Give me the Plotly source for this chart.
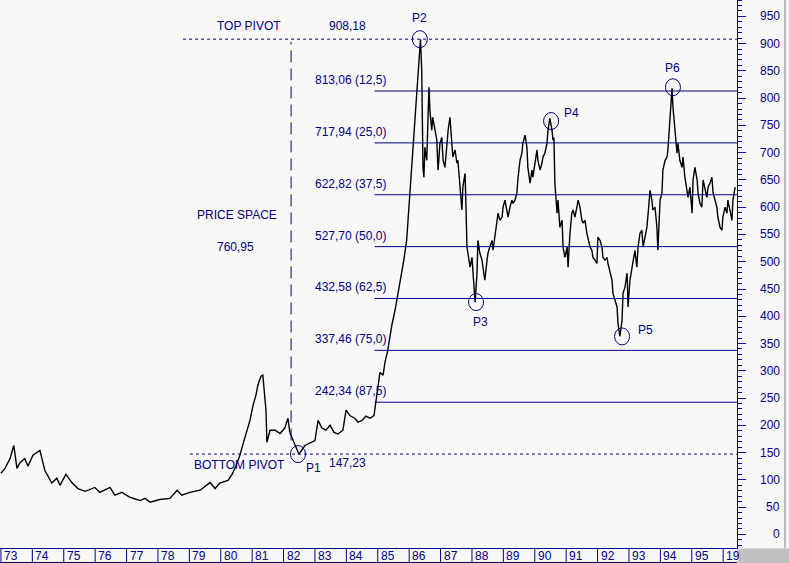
import plotly.graph_objects as go

# ---------------- data ----------------
years = [1973.00,1973.13,1973.29,1973.41,1973.51,1973.61,1973.76,1973.86,1974.02,1974.24,1974.40,1974.62,1974.78,1974.88,
 1975.07,1975.26,1975.45,1975.68,1975.99,1976.15,1976.47,1976.63,1976.85,1977.11,1977.43,1977.59,1977.75,1977.90,
 1978.06,1978.38,1978.61,1978.76,1979.02,1979.34,1979.66,1979.82,1979.97,1980.23,1980.36,1980.48,1980.61,1980.74,
 1980.83,1980.93,1981.03,1981.12,1981.18,1981.28,1981.34,1981.44,1981.47,1981.57,1981.73,1981.89,1982.04,1982.14,
 1982.20,1982.30,1982.43,1982.49,1982.68,1982.84,1983.00,1983.10,1983.22,1983.35,1983.48,1983.61,1983.73,1983.89,
 1983.99,1984.11,1984.27,1984.37,1984.50,1984.62,1984.75,1984.88,1984.94,1985.01,1985.07,1985.17,1985.23,1985.32,
 1985.39,1985.45,1985.55,1985.64,1985.74,1985.83,1985.92,1985.99,1986.05,1986.11,1986.18,1986.24,1986.31,1986.36,
 1986.40,1986.44,1986.47,1986.50,1986.56,1986.63,1986.66,1986.72,1986.75,1986.82,1986.88,1986.92,1986.98,1987.04,
 1987.08,1987.14,1987.20,1987.24,1987.30,1987.36,1987.39,1987.46,1987.52,1987.55,1987.62,1987.68,1987.71,1987.78,
 1987.81,1987.84,1987.87,1987.94,1988.00,1988.03,1988.10,1988.16,1988.19,1988.25,1988.32,1988.35,1988.41,1988.48,
 1988.51,1988.57,1988.64,1988.67,1988.73,1988.80,1988.83,1988.89,1988.96,1988.99,1989.05,1989.11,1989.15,1989.21,
 1989.27,1989.31,1989.37,1989.43,1989.46,1989.53,1989.59,1989.62,1989.69,1989.75,1989.78,1989.85,1989.91,1989.94,
 1990.01,1990.07,1990.10,1990.17,1990.23,1990.26,1990.32,1990.39,1990.42,1990.48,1990.55,1990.58,1990.61,1990.64,
 1990.71,1990.74,1990.80,1990.87,1990.90,1990.96,1991.03,1991.06,1991.12,1991.18,1991.22,1991.28,1991.34,1991.38,
 1991.44,1991.50,1991.54,1991.60,1991.66,1991.69,1991.76,1991.82,1991.85,1991.92,1991.98,1992.01,1992.08,1992.14,
 1992.17,1992.24,1992.30,1992.33,1992.39,1992.46,1992.49,1992.55,1992.62,1992.65,1992.71,1992.78,1992.81,1992.87,
 1992.94,1992.97,1993.03,1993.10,1993.13,1993.19,1993.25,1993.29,1993.35,1993.41,1993.45,1993.51,1993.57,1993.61,
 1993.67,1993.73,1993.76,1993.83,1993.89,1993.92,1993.99,1994.05,1994.08,1994.15,1994.21,1994.24,1994.31,1994.37,
 1994.40,1994.46,1994.53,1994.56,1994.62,1994.69,1994.72,1994.78,1994.85,1994.88,1994.94,1995.01,1995.04,1995.10,
 1995.17,1995.20,1995.26,1995.32,1995.36,1995.42,1995.48,1995.52,1995.58,1995.64,1995.68,1995.74,1995.80,1995.83,
 1995.90,1995.96,1995.99,1996.06,1996.12,1996.15,1996.22,1996.28,1996.31,1996.38]
prices = [112,121,139,163,121,132,139,125,145,154,117,94,103,90,
 110,95,84,79,86,77,86,72,77,68,62,66,59,62,
 64,66,81,72,77,81,95,84,94,99,110,125,145,172,
 191,209,237,255,273,290,292,228,169,191,191,185,195,213,
 187,172,154,147,163,167,172,209,195,191,200,187,184,191,
 228,218,213,206,209,217,213,218,242,273,297,292,316,338,
 365,384,411,439,470,503,539,595,650,705,760,806,851,908,
 851,673,655,710,686,820,778,741,765,741,723,668,717,728,
 686,673,717,741,765,717,692,705,681,686,626,595,637,662,
 600,527,516,490,508,479,426,479,539,516,503,490,466,503,
 516,527,539,521,552,576,589,576,582,600,613,589,582,600,
 613,607,613,626,650,686,699,717,732,710,673,644,668,655,
 686,705,686,668,681,692,699,717,741,763,741,723,728,644,
 589,613,563,576,527,508,527,490,552,589,595,582,600,613,
 600,576,571,576,552,545,527,521,508,503,497,545,539,527,
 508,503,508,497,484,466,442,429,417,387,363,393,442,453,
 479,417,466,490,503,521,490,527,552,558,527,545,563,589,
 631,613,595,600,563,521,613,626,668,686,692,705,760,818,
 784,747,699,717,686,673,692,655,631,618,637,589,650,673,
 650,626,607,600,650,631,618,637,644,655,626,613,600,582,
 563,558,582,600,589,613,595,576,613,637]

top_pivot = 908.18
bottom_pivot = 147.23
price_space = 760.95
level_values = [813.06, 717.94, 622.82, 527.70, 432.58, 337.46, 242.34]
level_labels = ["813,06 (12,5)", "717,94 (25,0)", "622,82 (37,5)", "527,70 (50,0)",
                "432,58 (62,5)", "337,46 (75,0)", "242,34 (87,5)"]

pivot_names = ["P1", "P2", "P3", "P4", "P5", "P6"]
pivot_years = [1982.46, 1986.34, 1988.13, 1990.52, 1992.78, 1994.40]
pivot_values = [147.23, 908.18, 426, 758, 363, 820]
pivot_label_dx = [15, 0, 4, 20, 23, 0]
pivot_label_dy = [-14, 21, -20, 8, 6, 19]

year_starts = list(range(1973, 1997))
year_labels = ["73","74","75","76","77","78","79","80","81","82","83","84",
               "85","86","87","88","89","90","91","92","93","94","95","19"]
y_tick_values = list(range(0, 951, 50))

# ---------------- style ----------------
NAVY = "#000080"
BG = "#f8f8f8"
FONT = "Liberation Sans, Arial, sans-serif"
X_MIN, X_MAX = 1972.97, 1996.44
Y_MIN, Y_MAX = -25, 980
PLOT_H = 548

fig = go.Figure()
fig.add_trace(go.Scatter(x=years, y=prices, mode="lines",
                         line=dict(color="black", width=1.4), hoverinfo="skip",
                         showlegend=False))

shapes = []
# Fibonacci levels
for v in level_values:
    shapes.append(dict(type="line", xref="x", yref="y", x0=1984.9, x1=X_MAX, y0=v, y1=v,
                       line=dict(color=NAVY, width=1)))
# pivots
shapes.append(dict(type="line", xref="x", yref="y", x0=1978.8, x1=X_MAX, y0=top_pivot, y1=top_pivot,
                   line=dict(color=NAVY, width=1, dash="3px,3px")))
shapes.append(dict(type="line", xref="x", yref="y", x0=1979.02, x1=X_MAX, y0=bottom_pivot, y1=bottom_pivot,
                   line=dict(color=NAVY, width=1, dash="3px,3px")))
# price space vertical
shapes.append(dict(type="line", xref="x", yref="y", x0=1982.24, x1=1982.24, y0=bottom_pivot + 25, y1=top_pivot - 5,
                   line=dict(color=NAVY, width=1, dash="12px,6px")))
# pivot circles
for px_, pv in zip(pivot_years, pivot_values):
    shapes.append(dict(type="circle", xref="x", yref="y", xsizemode="pixel", ysizemode="pixel",
                       xanchor=px_, yanchor=pv, x0=-7.5, x1=7.5, y0=-8.5, y1=8.5,
                       line=dict(color=NAVY, width=1)))
# year boxes
for ys in year_starts:
    shapes.append(dict(type="line", xref="x", yref="paper", x0=ys, x1=ys, y0=0, y1=-14.5 / PLOT_H,
                       line=dict(color=NAVY, width=1)))
shapes.append(dict(type="line", xref="paper", yref="paper", x0=0, x1=1, y0=-14.5 / PLOT_H, y1=-14.5 / PLOT_H,
                   line=dict(color=NAVY, width=1)))
# right panel border and grey corner
shapes.append(dict(type="line", xref="paper", yref="paper", x0=785 / 737, x1=785 / 737, y0=0, y1=1,
                   line=dict(color="#808080", width=1)))
shapes.append(dict(type="rect", xref="paper", yref="paper", x0=1.0007, x1=789 / 737, y0=-20 / PLOT_H, y1=-0.5 / PLOT_H,
                   fillcolor="#c0c0c0", line=dict(width=0), layer="above"))

ann = []
def txt(text, x, y, xref="x", yref="y", xanchor="center", yanchor="middle", xshift=0, yshift=0, size=12):
    ann.append(dict(text=text, x=x, y=y, xref=xref, yref=yref, xanchor=xanchor, yanchor=yanchor,
                    xshift=xshift, yshift=yshift, showarrow=False,
                    font=dict(family=FONT, size=size, color=NAVY)))

for v, lab in zip(level_values, level_labels):
    txt(lab, 1985.32, v, xanchor="right", yshift=11)
txt("TOP PIVOT", 1980.90, top_pivot, yshift=13)
txt("{:.2f}".format(top_pivot).replace(".", ","), 1984.05, top_pivot, yshift=13)
txt("BOTTOM PIVOT", 1980.61, bottom_pivot, yshift=-11)
txt("{:.2f}".format(bottom_pivot).replace(".", ","), 1984.05, bottom_pivot, yshift=-9)
txt("PRICE SPACE", 1980.52, 585)
txt("{:.2f}".format(price_space).replace(".", ","), 1980.48, 527)
for name, px_, pv, dx, dy in zip(pivot_names, pivot_years, pivot_values, pivot_label_dx, pivot_label_dy):
    txt(name, px_, pv, xshift=dx, yshift=dy)
for ys, lab in zip(year_starts, year_labels):
    txt(lab, ys, -7.5 / PLOT_H, yref="paper", xanchor="left", xshift=1)
for tv in y_tick_values:
    txt(str(tv), 782 / 737, tv, xref="paper", xanchor="right")

fig.update_layout(
    width=789, height=563,
    margin=dict(l=0, r=52, t=0, b=15, pad=0),
    paper_bgcolor=BG, plot_bgcolor=BG,
    shapes=shapes, annotations=ann,
    xaxis=dict(range=[X_MIN, X_MAX], showgrid=False, zeroline=False, showticklabels=False,
               ticks="", showline=True, linecolor=NAVY, linewidth=1),
    yaxis=dict(range=[Y_MIN, Y_MAX], side="right", showgrid=False, zeroline=False,
               showticklabels=False, ticks="outside", ticklen=8, tickcolor=NAVY, tickwidth=1,
               dtick=50, tick0=0, showline=True, linecolor=NAVY, linewidth=1,
               minor=dict(dtick=10, tick0=0, ticks="outside", ticklen=4, tickcolor=NAVY, tickwidth=1)),
)
fig.write_html("out.html", config={"displayModeBar": False})
